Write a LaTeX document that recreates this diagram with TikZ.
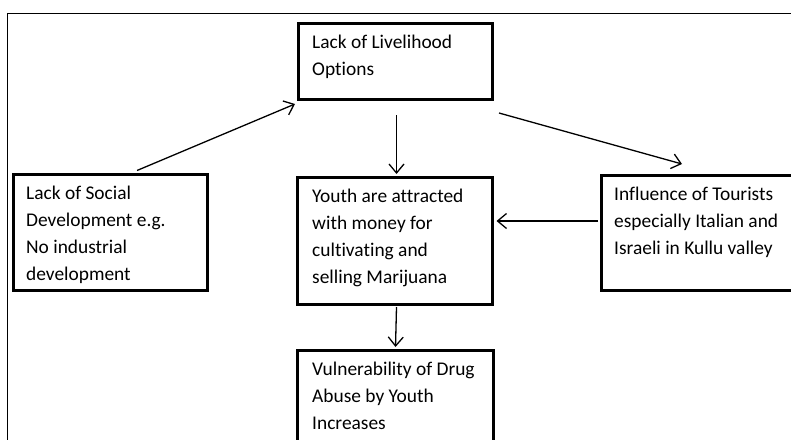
\documentclass[tikz,border=0pt]{standalone}
\usepackage{fontspec}
\setmainfont{Carlito}[RawFeature=-liga]
\usetikzlibrary{arrows.meta,calc}
\begin{document}
\begin{tikzpicture}[x=1pt,y=-1pt,
  box/.style={draw,line width=3pt,inner sep=0pt,anchor=north west},
  txt/.style={anchor=north west,inner sep=0pt,align=left,font=\fontsize{19.4}{27}\selectfont},
  conn/.style={line width=1.3pt,-{Straight Barb[length=9pt,width=15pt]}}]
\useasboundingbox (0,0) rectangle (791,439);
\clip (0,0) rectangle (791,439);
\draw[line width=1.8pt] (7.5,13.5) rectangle (830,480);
% boxes
\node[box,minimum width=194pt,minimum height=76pt] (b1) at (296.5,21.5) {};
\node[box,minimum width=194pt,minimum height=116pt] (b2) at (11.5,172.5) {};
\node[box,minimum width=195pt,minimum height=127pt] (b3) at (295.5,175.5) {};
\node[box,minimum width=300pt,minimum height=115pt] (b4) at (599.5,173.5) {};
\node[box,minimum width=196pt,minimum height=150pt] (b5) at (295.5,348.5) {};
% texts
\node[txt] (t1) at (312,29.1) {\strut Lack of Livelihood\\Options};
\node[txt] (t2) at (26,180.1) {\strut Lack of Social\\Development e.g.\\No industrial\\development};
\node[txt] (t3) at (312,183.1) {\strut Youth are attracted\\with money for\\cultivating and\\selling Marijuana};
\node[txt] (t4) at (614,181.1) {\strut Influence of Tourists\\especially Italian and\\Israeli in Kullu valley};
\node[txt] (t5) at (312,356.1) {\strut Vulnerability of Drug\\Abuse by Youth\\Increases};
% connectors
\draw[conn] ($(b2.north west)+(125.5,-2)$) -- ($(b1.south west)+(-1.5,3.5)$);
\draw[conn] ($(b1.south)+(1.5,14.5)$) -- ($(b3.north)+(2,-1.5)$);
\draw[conn] ($(b1.south east)+(5.5,12.5)$) -- ($(b4.north west)+(82.5,-9.5)$);
\coordinate (p4) at ($(b4.north west)+(-1.5,47.5)$);
\draw[conn] (p4) -- ($(b3.east |- p4)+(3,0)$);
\draw[conn] ($(b3.south)+(2,1.5)$) -- ($(b5.north)+(0.5,-1.5)$);
\end{tikzpicture}
\end{document}
